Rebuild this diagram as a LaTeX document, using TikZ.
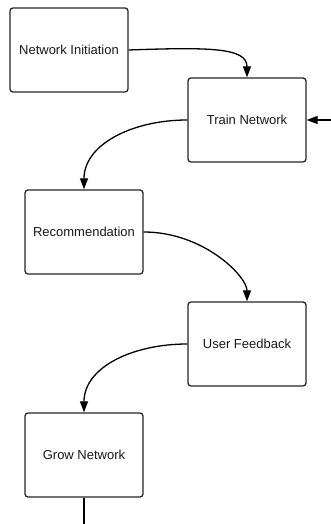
\documentclass[tikz,border=0pt]{standalone}
\usepackage{fontspec}
\setmainfont{Liberation Sans}
\usetikzlibrary{arrows.meta}
\begin{document}
\begin{tikzpicture}[x=1pt,y=1pt,
  box/.style={draw=black!85, line width=1.3pt, rounded corners=3pt, fill=white,
    minimum width=118pt, minimum height=84pt, inner sep=0pt,
    font=\fontsize{13}{15}\selectfont, text=black!90},
  conn/.style={line width=1.3pt, draw=black},
  arr/.style={conn, -{Triangle[length=11pt,width=8pt]}}]
\useasboundingbox (0,0) rectangle (331,524);
\node[box] (b1) at (69,474) {Network Initiation};
\node[box] (b2) at (247,404) {Train Network};
\node[box] (b3) at (84,292) {Recommendation};
\node[box] (b4) at (247,180) {User Feedback};
\node[box] (b5) at (84,69) {Grow Network};
\coordinate (rin) at (331,404);
\coordinate (bout) at (84,0);
\draw[arr] (b1.east) to[out=2,in=90,out distance=80pt,in distance=30pt] (b2.north);
\draw[arr] (rin) -- (b2.east);
\draw[arr] (b2.west) to[out=180,in=90,out distance=55pt,in distance=45pt] (b3.north);
\draw[arr] (b3.east) to[out=0,in=90,out distance=60pt,in distance=25pt] (b4.north);
\draw[arr] (b4.west) to[out=180,in=90,out distance=55pt,in distance=45pt] (b5.north);
\draw[conn] (b5.south) -- (bout);
\end{tikzpicture}
\end{document}
